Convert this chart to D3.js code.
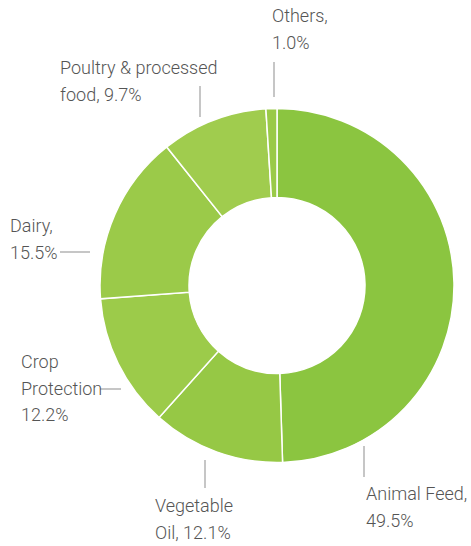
<!DOCTYPE html>
<html>
<head>
<meta charset="utf-8">
<script src="https://cdn.jsdelivr.net/npm/d3@7"></script>
<style>
  html, body { margin: 0; padding: 0; background: #fff; }
  svg { display: block; }
  .lbl { font-family: Roboto, "Liberation Sans", sans-serif; font-weight: 300; font-size: 18px; fill: #555; }
</style>
</head>
<body>
<svg id="chart" width="471" height="546"></svg>
<script>
// data
const categories = ["Animal Feed", "Vegetable Oil", "Crop Protection", "Dairy", "Poultry & processed food", "Others"];
const shares = [49.5, 12.1, 12.2, 15.5, 9.7, 1.0];
const labelLines = [
  ["Animal Feed,", "49.5%"],
  ["Vegetable", "Oil, 12.1%"],
  ["Crop", "Protection", "12.2%"],
  ["Dairy,", "15.5%"],
  ["Poultry & processed", "food, 9.7%"],
  ["Others,", "1.0%"]
];
const colors = ["#8bc540", "#96c845", "#9ccb4a", "#9bca49", "#a0cc4e", "#9aca48"];

// layout of labels + leaders (placed by hand like the original)
const layout = [
  { tx: 366, ty: 500, leader: [[364, 446], [364, 477]] },
  { tx: 155, ty: 512, leader: [[205, 460], [205, 488]] },
  { tx: 21,  ty: 368, leader: [[100, 389], [121, 389]] },
  { tx: 10,  ty: 232, leader: [[60, 252], [90, 252]] },
  { tx: 60,  ty: 74,  leader: [[200, 86], [200, 117]] },
  { tx: 272, ty: 22,  leader: [[274, 62], [274, 97]] }
];

const cx = 277, cy = 285.5, outerR = 177, innerR = 88;
const svg = d3.select("#chart");

const pie = d3.pie().sort(null).value(d => d).startAngle(0).endAngle(2 * Math.PI);
const arc = d3.arc().innerRadius(innerR).outerRadius(outerR);

const g = svg.append("g").attr("transform", `translate(${cx},${cy})`);
g.selectAll("path").data(pie(shares)).enter().append("path")
  .attr("d", arc)
  .attr("fill", (d, i) => colors[i])
  .attr("stroke", "#fff")
  .attr("stroke-width", 1.5);

// leaders
svg.selectAll(".leader").data(layout).enter().append("line")
  .attr("class", "leader")
  .attr("x1", d => d.leader[0][0]).attr("y1", d => d.leader[0][1])
  .attr("x2", d => d.leader[1][0]).attr("y2", d => d.leader[1][1])
  .attr("stroke", "#c6c6c6").attr("stroke-width", 2);

// labels
const lbl = svg.selectAll(".lbl").data(categories).enter().append("text")
  .attr("class", "lbl")
  .attr("x", (d, i) => layout[i].tx)
  .attr("y", (d, i) => layout[i].ty);
lbl.each(function (d, i) {
  d3.select(this).selectAll("tspan").data(labelLines[i]).enter().append("tspan")
    .attr("x", layout[i].tx)
    .attr("dy", (t, j) => j === 0 ? 0 : 26.5)
    .text(t => t);
});
</script>
</body>
</html>
